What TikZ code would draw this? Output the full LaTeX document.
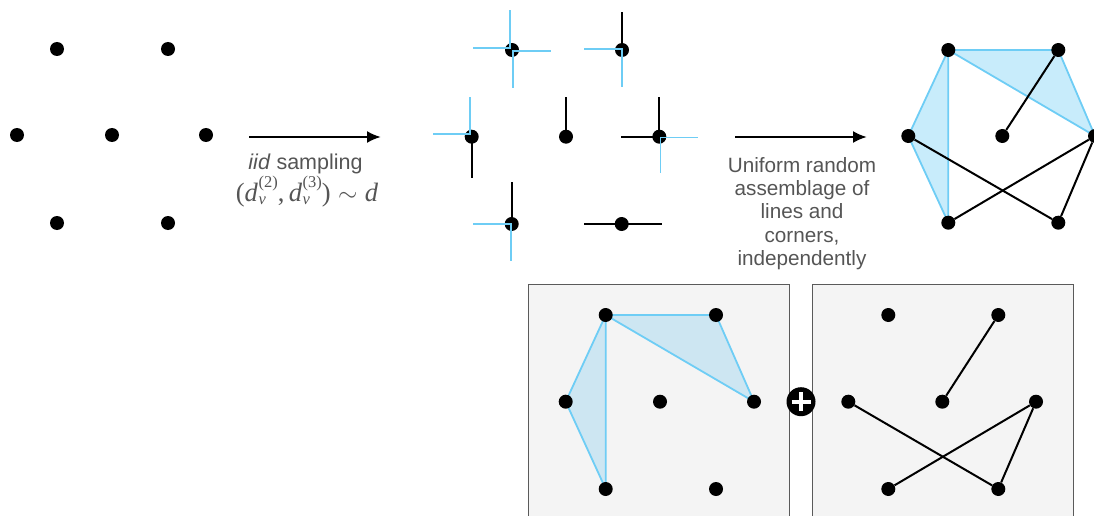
\documentclass[tikz,border=0pt]{standalone}
\usepackage[no-math]{fontspec}
\setmainfont{Liberation Sans}
\newfontfamily\tmsfont{Liberation Serif}
\usetikzlibrary{arrows.meta}
\definecolor{lblue}{RGB}{110,205,245}
\definecolor{fblue}{RGB}{200,236,251}
\definecolor{fblueb}{RGB}{205,230,242}
\definecolor{tgray}{RGB}{85,85,85}
\definecolor{boxbg}{RGB}{244,244,244}
\definecolor{boxline}{RGB}{90,90,90}
\newcommand{\scrsz}{\fontsize{16.5}{16.5}\selectfont}
\newcommand{\dsymb}[1]{\textit{d}\kern0.6pt\rlap{\raisebox{-3pt}{\scrsz\itshape v}}\raisebox{14pt}{\scrsz(#1)}}
\begin{document}
\begin{tikzpicture}[x=1pt,y=-1pt,
 dot/.style={circle,fill=black,inner sep=0pt,minimum size=14pt},
 edge/.style={line width=2pt,black},
 bedge/.style={line width=1.8pt,draw=lblue,line join=round},
 half/.style={line width=2pt,black},
 bhalf/.style={line width=1.9pt,lblue,line join=miter},
 arr/.style={line width=2.2pt,-{Latex[length=14pt,width=12pt]}},
 lbl/.style={text=tgray,align=center,inner sep=0pt},
 panel/.style={draw=boxline,fill=boxbg,line width=1pt}]
\useasboundingbox (0,0) rectangle (1094,516);
\clip (0,0) rectangle (1094,516);

% ---------- left: vertices ----------
\node[dot] (l1) at (57,49) {};
\node[dot] (l2) at (168,49) {};
\node[dot] (l3) at (17,135) {};
\node[dot] (l4) at (112,135) {};
\node[dot] (l5) at (206,135) {};
\node[dot] (l6) at (57,223) {};
\node[dot] (l7) at (168,223) {};

% ---------- arrow 1 ----------
\coordinate (a1s) at (249,137);
\coordinate (a1e) at (381,137);
\draw[arr] (a1s) -- (a1e);
\node[lbl,font=\fontsize{21.5}{24}\selectfont] (t1) at (305.5,164) {\textit{iid} sampling};
\node[lbl,font=\tmsfont\fontsize{26.5}{30}\selectfont,anchor=base] (t2) at (307,201.7) {(\dsymb{2},\,\dsymb{3})\;$\sim$\;\textit{d}};

% ---------- middle: half-edges ----------
\node[dot] (mA) at (512,50) {};
\node[dot] (mB) at (622,50) {};
\node[dot] (mC) at (471.7,136.7) {};
\node[dot] (mD) at (566,136.7) {};
\node[dot] (mE) at (659.3,136.7) {};
\node[dot] (mF) at (511.7,224) {};
\node[dot] (mG) at (621.7,224) {};

\draw[half] (mB.center) -- ++(0,-38.3);
\draw[half] (mC.center) -- ++(0,41.6);
\draw[half] (mD.center) -- ++(0,-40);
\draw[half] (mE.center) -- ++(0,-40);
\draw[half] (mE.center) -- ++(-38.6,0);
\draw[half] (mF.center) -- ++(0,-42.3);
\draw[half] (mG.center) ++(-37.4,0) -- ++(78,0);

\draw[bhalf] (mA.center) ++(-38.7,-1.7) -- ++(37,0) -- ++(0,-38);
\draw[bhalf] (mA.center) ++(38.7,1) -- ++(-38,0) -- ++(0,37.3);
\draw[bhalf] (mB.center) ++(-37.7,-0.7) -- ++(37.4,0) -- ++(0,37.7);
\draw[bhalf] (mC.center) ++(-38.4,-2.7) -- ++(37,0) -- ++(0,-36.7);
\draw[bhalf] (mE.center) ++(38.4,0.8) -- ++(-37.2,0) -- ++(0,35.8);
\draw[bhalf] (mF.center) ++(-38.4,0) -- ++(37.4,0) -- ++(0,36.7);

% ---------- arrow 2 ----------
\coordinate (a2s) at (735,137);
\coordinate (a2e) at (867,137);
\draw[arr] (a2s) -- (a2e);
\node[lbl,font=\fontsize{20.7}{23.3}\selectfont] (t3) at (802,213.5)
 {Uniform random\\assemblage of\\lines and\\corners,\\independently};

% ---------- right graph ----------
\coordinate (rTLc) at (948.3,50);
\coordinate (rTRc) at (1058.3,50);
\coordinate (rLc) at (908.3,136);
\coordinate (rRc) at (1095,136);
\coordinate (rBLc) at (948.3,222.7);
\filldraw[bedge,fill=fblue] (rTLc) -- (rLc) -- (rBLc) -- cycle;
\filldraw[bedge,fill=fblue] (rTLc) -- (rTRc) -- (rRc) -- cycle;
\node[dot] (rTL) at (rTLc) {};
\node[dot] (rTR) at (rTRc) {};
\node[dot] (rL) at (rLc) {};
\node[dot] (rC) at (1002.3,136) {};
\node[dot] (rR) at (rRc) {};
\node[dot] (rBL) at (rBLc) {};
\node[dot] (rBR) at (1058.3,222.7) {};
\draw[edge] (rTR) -- (rC);
\draw[edge] (rL) -- (rBR);
\draw[edge] (rBL) -- (rR);
\draw[edge] (rR) -- (rBR);

% ---------- bottom panels ----------
\node[panel,minimum width=261pt,minimum height=240pt,inner sep=0pt,anchor=north west] (p1) at (528.3,284.3) {};
\node[panel,minimum width=261.6pt,minimum height=240pt,inner sep=0pt,anchor=north west] (p2) at (811.7,284.3) {};

\coordinate (bTL) at (605.7,315);
\coordinate (bL) at (565.7,401.7);
\coordinate (bBL) at (605.7,489);
\coordinate (bTR) at (716,315);
\coordinate (bR) at (754,401.7);
\filldraw[bedge,fill=fblueb] (bTL) -- (bL) -- (bBL) -- cycle;
\filldraw[bedge,fill=fblueb] (bTL) -- (bTR) -- (bR) -- cycle;
\node[dot] (bn1) at (bTL) {};
\node[dot] (bn2) at (bTR) {};
\node[dot] (bn3) at (bL) {};
\node[dot] (bn4) at (660,401.7) {};
\node[dot] (bn5) at (bR) {};
\node[dot] (bn6) at (bBL) {};
\node[dot] (bn7) at (716,489) {};

\node[dot] (cTL) at (888.3,315) {};
\node[dot] (cTR) at (998.3,315) {};
\node[dot] (cL) at (848.3,401.7) {};
\node[dot] (cC) at (942.3,401.7) {};
\node[dot] (cR) at (1036,401.7) {};
\node[dot] (cBL) at (888.3,489) {};
\node[dot] (cBR) at (998.3,489) {};
\draw[edge] (cTR) -- (cC);
\draw[edge] (cL) -- (cBR);
\draw[edge] (cBL) -- (cR);
\draw[edge] (cR) -- (cBR);

% ---------- plus ----------
\node[circle,fill=black,inner sep=0pt,minimum size=29pt] (plus) at (801,401.7) {};
\draw[white,line width=3.8pt] (plus.center) ++(-9.5,0) -- ++(19,0);
\draw[white,line width=3.8pt] (plus.center) ++(0,-9.5) -- ++(0,19);
\end{tikzpicture}
\end{document}
